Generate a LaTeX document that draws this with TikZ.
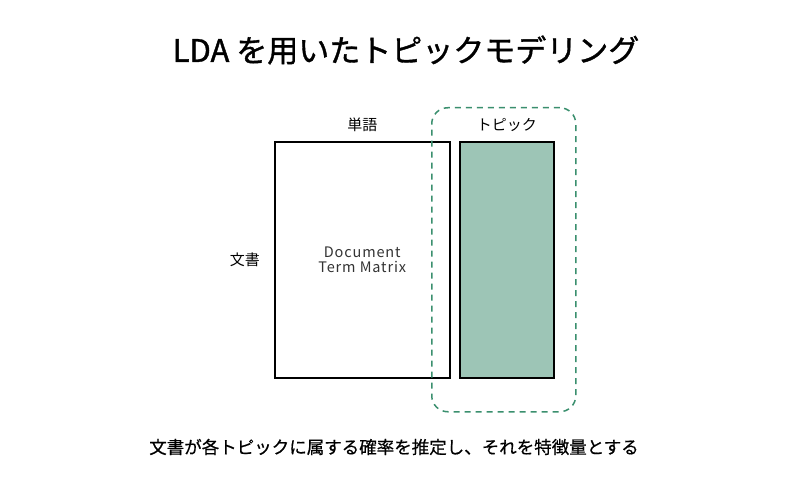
\documentclass[tikz,border=0pt]{standalone}
\usepackage{fontspec}
\setmainfont{Noto Sans CJK JP}
\newfontfamily\titlefont[FakeBold=1.2]{Noto Sans CJK JP}
\usepackage{tikz}
\usetikzlibrary{positioning}
\definecolor{topicfill}{HTML}{9DC5B6}
\definecolor{topicline}{HTML}{3A8F6E}
\definecolor{dtmtext}{HTML}{333333}
\begin{document}
\begin{tikzpicture}[
      x=1pt,y=-1pt,
      mat/.style={draw=black,line width=1.5pt,anchor=north west,minimum height=236pt},
      lbl/.style={font=\fontsize{15}{15}\selectfont,inner sep=0pt}
    ]
    \useasboundingbox[fill=white] (0,0) rectangle (800,500);

    \node[font=\titlefont\fontsize{31}{31}\selectfont,inner sep=0pt] (title) at (406,50) {LDA を用いたトピックモデリング};

    \node[mat,minimum width=175pt] (dtm) at (274,141) {};
    \node[mat,fill=topicfill,minimum width=94pt] (topic) at (459,141) {};
    \node[
      draw=topicline,line width=1.5pt,dash pattern=on 6pt off 5pt,rounded corners=16pt,
      anchor=north west,minimum width=144pt,minimum height=304pt
    ] (grp) at (431,107) {};

    \node[align=center,text=dtmtext,font=\addfontfeatures{LetterSpace=6}\fontsize{14.5}{15}\selectfont] at (dtm.center) {Document\\Term Matrix};

    \node[lbl,above=9pt of dtm] (words) {単語};
    \node[lbl,above=9pt of topic] (topics) {トピック};
    \node[lbl,left=14pt of dtm] (docs) {文書};

    \node[font=\addfontfeatures{FakeBold=0.6}\fontsize{17.5}{17.5}\selectfont,inner sep=0pt] (caption) at (394,447) {文書が各トピックに属する確率を推定し、それを特徴量とする};
  \end{tikzpicture}
\end{document}
